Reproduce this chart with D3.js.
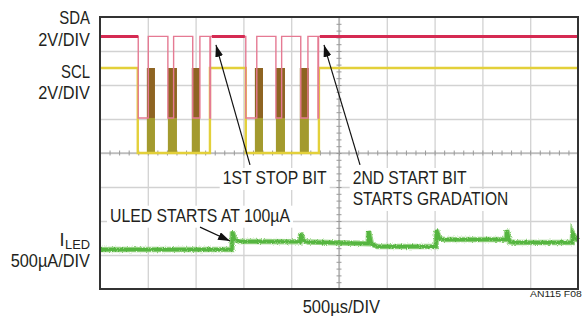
<!DOCTYPE html>
<html><head><meta charset="utf-8">
<script src="https://cdn.jsdelivr.net/npm/d3@7"></script>
<style>
html,body{margin:0;padding:0;background:#fff;}
svg{display:block;}
text{font-family:"Liberation Sans",Arial,sans-serif;fill:#231f20;}
</style></head><body>
<svg id="chart" width="584" height="316"></svg>
<script>
// ---------------- data ----------------
const timeDivTicks = d3.range(0, 5001, 500);          // µs, 500µs/DIV
const levelDivTicks = d3.range(0, 9);                 // 8 vertical divisions
const minorTimeTicks = d3.range(0, 5001, 100);
const minorLevelTicks = d3.range(0, 8.001, 0.2);

// SDA (V) vs time (µs)
const sdaPoints = [
  [0,4.8],[400,4.8],[400,0],[505,0],[505,4.8],[710,4.8],[710,0],[770,0],[770,4.8],
  [970,4.8],[970,0],[1045,0],[1045,4.8],[1150,4.8],[1150,0],[1156,0],[1156,4.8],
  [1525,4.8],[1525,0],[1640,0],[1640,4.8],[1840,4.8],[1840,0],[1900,0],[1900,4.8],
  [2100,4.8],[2100,0],[2175,0],[2175,4.8],[2280,4.8],[2280,0],[2286,0],[2286,4.8],[5000,4.8]
];
const sdaIdle = [[0,400],[1170,1515],[2300,5000]];

// SCL (V) vs time (µs)
const sclPoints = [
  [0,5],[395,5],[395,0],[1150,0],[1150,5],[1525,5],[1525,0],[2290,0],[2290,5],[5000,5]
];
const sclBursts = [[490,575],[710,805],[960,1045],[1620,1705],[1840,1935],[2090,2185]];

// ILED (µA) vs time (µs)
const iledPoints = [
  [0,0],[1380,0],[1385,265],[1410,150],[1460,118],
  [2095,115],[2100,243],[2130,130],[2180,110],
  [2805,88],[2810,272],[2840,80],[2900,44],
  [3515,44],[3520,287],[3550,165],[3600,147],
  [4250,147],[4255,287],[4285,115],[4340,103],
  [4940,103],[4945,243],[4975,160],[5000,140]
];

const leftLabels = ["SDA","2V/DIV","SCL","2V/DIV","500µA/DIV"];
const notes = ["1ST STOP BIT","2ND START BIT","STARTS GRADATION","ULED STARTS AT 100µA"];
const axisLabel = "500µs/DIV";
const figId = "AN115 F08";

// ---------------- layout ----------------
const svg = d3.select("#chart");
const L = 100, R = 578, T = 17, B = 289;
const x = d3.scaleLinear().domain([0,5000]).range([L,R]);
const yDiv = d3.scaleLinear().domain([0,8]).range([B,T]);
const chan = {
  sda: {offset: 5.03, perDiv: 2},
  scl: {offset: 4.0, perDiv: 2},
  iled: {offset: 1.16, perDiv: 500}
};
const yc = c => v => yDiv(chan[c].offset + v / chan[c].perDiv);

const defs = svg.append("defs");
const f = defs.append("filter").attr("id","noise").attr("x","-2%").attr("y","-100%").attr("width","104%").attr("height","300%");
f.append("feTurbulence").attr("type","fractalNoise").attr("baseFrequency","1.2 0.6").attr("numOctaves",2).attr("seed",4).attr("result","t");
f.append("feDisplacementMap").attr("in","SourceGraphic").attr("in2","t").attr("scale",3).attr("xChannelSelector","R").attr("yChannelSelector","G");
defs.append("marker").attr("id","arr").attr("markerUnits","userSpaceOnUse")
  .attr("viewBox","0 0 12 8").attr("refX",12).attr("refY",4).attr("markerWidth",12).attr("markerHeight",8).attr("orient","auto")
  .append("path").attr("d","M0,0 L12,4 L0,8 Z").attr("fill","#111");

// grid
const grid = svg.append("g");
grid.append("g").attr("transform",`translate(0,${B})`)
  .call(d3.axisBottom(x).tickValues(timeDivTicks.slice(1,-1)).tickSize(-(B-T)).tickFormat(""))
  .call(g=>g.select(".domain").remove())
  .call(g=>g.selectAll("line").attr("stroke","#d2d2d2").attr("stroke-width",1.3));
grid.append("g").attr("transform",`translate(${L},0)`)
  .call(d3.axisLeft(yDiv).tickValues(levelDivTicks.slice(1,-1)).tickSize(-(R-L)).tickFormat(""))
  .call(g=>g.select(".domain").remove())
  .call(g=>g.selectAll("line").attr("stroke","#d2d2d2").attr("stroke-width",1.3));
// center lines with minor ticks
grid.append("line").attr("x1",L).attr("x2",R).attr("y1",yDiv(4)).attr("y2",yDiv(4)).attr("stroke","#a8a8a8").attr("stroke-width",1.2);
grid.append("line").attr("x1",x(2500)).attr("x2",x(2500)).attr("y1",T).attr("y2",B).attr("stroke","#a8a8a8").attr("stroke-width",1.2);
grid.append("g").attr("transform",`translate(0,${yDiv(4)-2.5})`)
  .call(d3.axisBottom(x).tickValues(minorTimeTicks).tickSize(5).tickFormat(""))
  .call(g=>g.select(".domain").remove())
  .call(g=>g.selectAll("line").attr("stroke","#999"));
grid.append("g").attr("transform",`translate(${x(2500)+2.5},0)`)
  .call(d3.axisLeft(yDiv).tickValues(minorLevelTicks).tickSize(5).tickFormat(""))
  .call(g=>g.select(".domain").remove())
  .call(g=>g.selectAll("line").attr("stroke","#999"));

// white boxes layer (filled after text is measured)
const boxLayer = svg.append("g");

// traces
const line = (c) => d3.line().x(d=>x(d[0])).y(d=>yc(c)(d[1]));
const tr = svg.append("g");
// SCL bursts
const split = yc("sda")(0);
sclBursts.forEach(b=>{
  tr.append("rect").attr("x",x(b[0])).attr("width",x(b[1])-x(b[0]))
    .attr("y",yc("scl")(5)).attr("height",split-yc("scl")(5)).attr("fill","#8e6422");
  tr.append("rect").attr("x",x(b[0])).attr("width",x(b[1])-x(b[0]))
    .attr("y",split).attr("height",yc("scl")(0)-split).attr("fill","#a39a2e");
});
tr.append("path").datum(sclPoints).attr("d",line("scl")).attr("fill","none").attr("stroke","#e3d03a").attr("stroke-width",2.4);
tr.append("path").datum(sdaPoints).attr("d",line("sda")).attr("fill","none").attr("stroke","#e57a93").attr("stroke-width",1.4);
sdaIdle.forEach(s=>{
  tr.append("path").datum([[s[0],4.8],[s[1],4.8]]).attr("d",line("sda")).attr("fill","none").attr("stroke","#d52a52").attr("stroke-width",3);
});
// ILED
tr.append("path").datum(iledPoints).attr("d",line("iled")).attr("fill","none")
  .attr("stroke","#86cc70").attr("stroke-width",5.5).attr("filter","url(#noise)").attr("opacity",0.85);
tr.append("path").datum(iledPoints).attr("d",line("iled")).attr("fill","none")
  .attr("stroke","#55b53f").attr("stroke-width",3.2).attr("filter","url(#noise)");

// frame
svg.append("rect").attr("x",L).attr("y",T).attr("width",R-L).attr("height",B-T)
  .attr("fill","none").attr("stroke","#333").attr("stroke-width",2);

// arrows (in data coordinates: time µs, level div)
const arrows = [
  [[1569,3.65],[1213,7.18]],
  [[2720,3.65],[2343,7.18]],
  [[1046,1.82],[1360,1.41]]
];
arrows.forEach(a=>{
  svg.append("line").attr("x1",x(a[0][0])).attr("y1",yDiv(a[0][1]))
    .attr("x2",x(a[1][0])).attr("y2",yDiv(a[1][1]))
    .attr("stroke","#111").attr("stroke-width",1.2).attr("marker-end","url(#arr)");
});

// text
function txt(s, xPos, yPos, w, size){
  const t = svg.append("text").attr("x",xPos).attr("y",yPos).attr("font-size",size||18).text(s);
  if (w) t.attr("textLength",w).attr("lengthAdjust","spacingAndGlyphs");
  return t;
}
txt(leftLabels[0], 59.3, 24.3, 30.7);
txt(leftLabels[1], 38.3, 46, 51.7);
txt(leftLabels[2], 61, 77.5, 29);
txt(leftLabels[3], 38.3, 99.3, 51.7);
txt("I", 59.5, 246, null, 18);
txt("LED", 65, 248.5, 25, 13.5);
txt(leftLabels[4], 10.7, 267, 79.3);

const noteEls = [
  txt(notes[0], 222.7, 184, 104),
  txt(notes[1], 352.7, 184, 114),
  txt(notes[2], 352.7, 205, 155.6),
  txt(notes[3], 110, 221.7, 180)
];
noteEls.forEach(el=>{
  const bb = el.node().getBBox();
  boxLayer.append("rect").attr("x",bb.x-3).attr("y",bb.y).attr("width",bb.width+6).attr("height",bb.height+2).attr("fill","#fff");
});
txt(axisLabel, 302.7, 312.5, 77.3);
txt(figId, 530, 297, 51.7, 8.5);
</script>
</body></html>
